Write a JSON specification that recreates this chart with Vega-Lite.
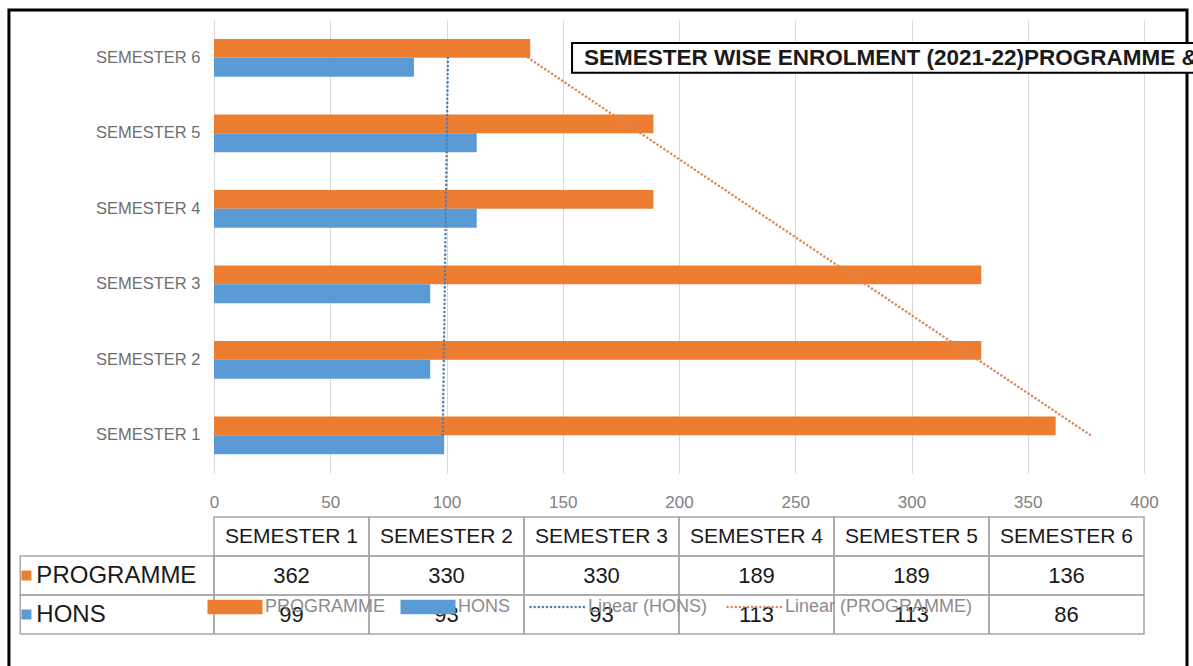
{
  "$schema": "https://vega.github.io/schema/vega-lite/v6.json",
  "width": 930,
  "height": 453,
  "autosize": {"type": "none"},
  "padding": {"left": 214, "top": 20, "right": 49, "bottom": 193},
  "background": "white",
  "config": {"view": {"stroke": null}, "font": "Liberation Sans", "text": {"font": "Liberation Sans"}},
  "datasets": {
    "enrol": [
      {"semester": "SEMESTER 1", "series": "PROGRAMME", "value": 362},
      {"semester": "SEMESTER 2", "series": "PROGRAMME", "value": 330},
      {"semester": "SEMESTER 3", "series": "PROGRAMME", "value": 330},
      {"semester": "SEMESTER 4", "series": "PROGRAMME", "value": 189},
      {"semester": "SEMESTER 5", "series": "PROGRAMME", "value": 189},
      {"semester": "SEMESTER 6", "series": "PROGRAMME", "value": 136},
      {"semester": "SEMESTER 1", "series": "HONS", "value": 99},
      {"semester": "SEMESTER 2", "series": "HONS", "value": 93},
      {"semester": "SEMESTER 3", "series": "HONS", "value": 93},
      {"semester": "SEMESTER 4", "series": "HONS", "value": 113},
      {"semester": "SEMESTER 5", "series": "HONS", "value": 113},
      {"semester": "SEMESTER 6", "series": "HONS", "value": 86}
    ],
    "trend": [
      {"semester": "SEMESTER 1", "series": "Linear (HONS)", "value": 98.4},
      {"semester": "SEMESTER 6", "series": "Linear (HONS)", "value": 100.6},
      {"semester": "SEMESTER 1", "series": "Linear (PROGRAMME)", "value": 377.0},
      {"semester": "SEMESTER 6", "series": "Linear (PROGRAMME)", "value": 135.1}
    ]
  },
  "resolve": {"scale": {"x": "independent", "y": "independent"}},
  "layer": [
    {
      "layer": [
        {
          "data": {"name": "enrol"},
          "mark": {"type": "bar"},
          "encoding": {
            "x": {
              "field": "value", "type": "quantitative",
              "scale": {"domain": [0, 400], "nice": false, "zero": true},
              "axis": {
                "values": [0, 50, 100, 150, 200, 250, 300, 350, 400],
                "grid": true, "gridColor": "#d9d9d9", "gridWidth": 1,
                "domain": false, "ticks": false, "title": null, "labelFlush": false,
                "labelColor": "#808080", "labelFontSize": 17, "labelPadding": 21,
                "labelFont": "Liberation Sans"
              }
            },
            "y": {
              "field": "semester", "type": "nominal",
              "scale": {
                "domain": ["SEMESTER 6", "SEMESTER 5", "SEMESTER 4", "SEMESTER 3", "SEMESTER 2", "SEMESTER 1"],
                "paddingInner": 0.5, "paddingOuter": 0.25
              },
              "axis": {
                "title": null, "domain": false, "ticks": false, "grid": false,
                "labelColor": "#6e6e6e", "labelFontSize": 16.5, "labelPadding": 14,
                "labelFont": "Liberation Sans"
              }
            },
            "yOffset": {"field": "series", "type": "nominal", "scale": {"domain": ["PROGRAMME", "HONS"]}},
            "color": {
              "field": "series", "type": "nominal",
              "scale": {
                "domain": ["PROGRAMME", "HONS", "Linear (HONS)", "Linear (PROGRAMME)"],
                "range": ["#ED7D31", "#5B9BD5", "#4F7FB3", "#D9895A"]
              },
              "legend": {
                "title": null, "orient": "none", "legendX": 12, "legendY": 578,
                "direction": "horizontal", "padding": 0,
                "symbolType": "stroke", "symbolSize": 3025, "symbolStrokeWidth": 2.5,
                "labelFontSize": 18, "labelColor": "#8c8c8c", "labelOffset": 21,
                "labelLimit": 400, "columnPadding": 14, "labelFont": "Liberation Sans",
                "encode": {
                  "symbols": {
                    "update": {
                      "y": {"value": 9},
                      "shape": {"signal": "datum.value === 'PROGRAMME' || datum.value === 'HONS' ? 'M-1,-0.26H1V0.26H-1Z' : 'stroke'"},
                      "stroke": {"scale": "color", "field": "value"},
                      "fill": {"scale": "color", "field": "value"},
                      "fillOpacity": {"signal": "datum.value === 'PROGRAMME' || datum.value === 'HONS' ? 1 : 0"},
                      "opacity": {"value": 1},
                      "strokeWidth": {"signal": "datum.value === 'PROGRAMME' || datum.value === 'HONS' ? 0 : 2.5"},
                      "strokeDash": {"signal": "datum.value === 'PROGRAMME' || datum.value === 'HONS' ? [1, 0] : [0.1, 4]"},
                      "strokeCap": {"value": "round"}
                    }
                  },
                  "labels": {
                    "update": {
                      "y": {"value": 9}
                    }
                  }
                }
              }
            }
          }
        },
        {
          "data": {"name": "trend"},
          "mark": {"type": "line", "strokeWidth": 2.5, "strokeDash": [0.1, 4], "strokeCap": "round"},
          "encoding": {
            "x": {"field": "value", "type": "quantitative"},
            "y": {"field": "semester", "type": "nominal", "bandPosition": 0.5},
            "color": {"field": "series", "type": "nominal"},
            "detail": {"field": "series"}
          }
        },
        {
          "data": {"values": [{}]},
          "mark": {"type": "rect", "filled": false, "stroke": "#000000", "strokeWidth": 3, "clip": false},
          "encoding": {
            "x": {"datum": -88.2},
            "x2": {"datum": 418.5},
            "y": {"datum": "SEMESTER 6", "bandPosition": -0.765},
            "y2": {"datum": "SEMESTER 1", "bandPosition": 6.66}
          }
        },
        {
          "data": {"values": [{}]},
          "mark": {"type": "rect", "fill": "#ffffff", "stroke": "#000000", "strokeWidth": 2, "clip": false},
          "encoding": {
            "x": {"datum": 154},
            "x2": {"datum": 430},
            "y": {"datum": "SEMESTER 6", "bandPosition": 0.11},
            "y2": {"datum": "SEMESTER 6", "bandPosition": 0.9}
          }
        },
        {
          "data": {"values": [{}]},
          "mark": {
            "type": "text", "text": "SEMESTER WISE ENROLMENT (2021-22)PROGRAMME &",
            "align": "left", "baseline": "middle", "fontWeight": "bold", "fontSize": 22.5,
            "font": "Liberation Sans", "color": "#1a1a1a", "clip": false
          },
          "encoding": {
            "x": {"datum": 159.1},
            "y": {"datum": "SEMESTER 6", "bandPosition": 0.5}
          }
        }
      ]
    },
    {
      "data": {"name": "enrol"},
      "layer": [
        {
          "mark": {"type": "rect", "filled": false, "stroke": "#a6a6a6", "strokeWidth": 1.5},
          "encoding": {
            "x": {
              "field": "semester", "type": "nominal",
              "scale": {
                "domain": ["SEMESTER 1", "SEMESTER 2", "SEMESTER 3", "SEMESTER 4", "SEMESTER 5", "SEMESTER 6"],
                "paddingInner": 0, "paddingOuter": 0
              },
              "axis": null
            },
            "y": {
              "field": "series", "type": "nominal",
              "scale": {"domain": ["header", "PROGRAMME", "HONS"], "range": [497, 614], "paddingInner": 0, "paddingOuter": 0},
              "axis": null
            }
          }
        },
        {
          "transform": [{"filter": "datum.series === 'PROGRAMME'"}],
          "mark": {"type": "rect", "filled": false, "stroke": "#a6a6a6", "strokeWidth": 1.5},
          "encoding": {
            "x": {"field": "semester", "type": "nominal"},
            "y": {"datum": "header"}
          }
        },
        {
          "transform": [{"filter": "datum.series === 'PROGRAMME'"}],
          "mark": {"type": "text", "fontSize": 21, "color": "#1a1a1a", "baseline": "middle", "align": "center"},
          "encoding": {
            "x": {"field": "semester", "type": "nominal", "bandPosition": 0.5},
            "y": {"datum": "header", "bandPosition": 0.5},
            "text": {"field": "semester"}
          }
        },
        {
          "mark": {"type": "text", "fontSize": 22, "color": "#1a1a1a", "baseline": "middle", "align": "center"},
          "encoding": {
            "x": {"field": "semester", "type": "nominal", "bandPosition": 0.5},
            "y": {"field": "series", "type": "nominal", "bandPosition": 0.5},
            "text": {"field": "value", "type": "quantitative"}
          }
        },
        {
          "transform": [{"filter": "datum.semester === 'SEMESTER 1'"}],
          "mark": {"type": "rect", "filled": false, "stroke": "#a6a6a6", "strokeWidth": 1.5},
          "encoding": {
            "x": {"datum": "SEMESTER 1", "bandPosition": -1.25},
            "x2": {"datum": "SEMESTER 1", "bandPosition": 0},
            "y": {"field": "series", "type": "nominal"}
          }
        },
        {
          "transform": [{"filter": "datum.semester === 'SEMESTER 1'"}],
          "mark": {"type": "text", "fontSize": 24, "color": "#1a1a1a", "baseline": "middle", "align": "left"},
          "encoding": {
            "x": {"datum": "SEMESTER 1", "bandPosition": -1.146},
            "y": {"field": "series", "type": "nominal", "bandPosition": 0.5},
            "text": {"field": "series"}
          }
        },
        {
          "transform": [{"filter": "datum.semester === 'SEMESTER 1'"}],
          "mark": {"type": "square", "size": 100, "filled": true, "opacity": 1},
          "encoding": {
            "x": {"datum": "SEMESTER 1", "bandPosition": -1.21},
            "y": {"field": "series", "type": "nominal", "bandPosition": 0.5},
            "color": {"field": "series", "type": "nominal"}
          }
        }
      ]
    }
  ]
}
